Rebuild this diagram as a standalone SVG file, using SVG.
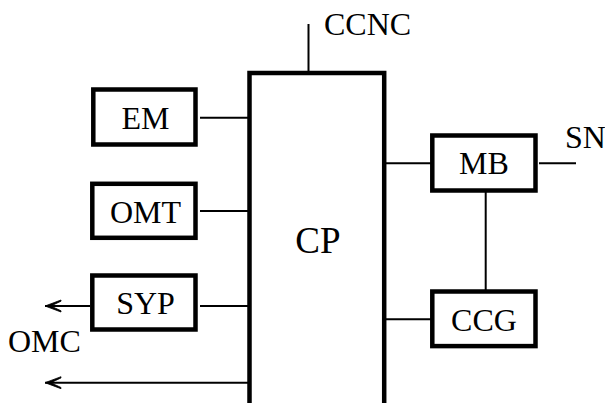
<svg xmlns="http://www.w3.org/2000/svg" width="605" height="403" viewBox="0 0 605 403">
<defs>
<style>
.box{fill:#fff;stroke:#000;stroke-width:4.5}
.cp{fill:none;stroke:#000;stroke-width:4.5}
.ln{fill:none;stroke:#000;stroke-width:2}
text{font-family:"Liberation Serif","Times New Roman",serif;font-size:32px;fill:#000}
.c{text-anchor:middle}
</style>
<marker id="ah" markerWidth="18" markerHeight="14" refX="17" refY="7" orient="auto" markerUnits="userSpaceOnUse" viewBox="0 0 18 14">
<path d="M17,7 Q9,4 1,1 L1,2.2 Q7,5 11,7 Q7,9 1,11.8 L1,13 Q9,10 17,7 Z" fill="#000" stroke="#000" stroke-width="0.8"/>
</marker>
</defs>
<rect width="605" height="403" fill="#fff"/>
<g id="connectors">
<line class="ln" x1="308.5" y1="24" x2="308.5" y2="73"/>
<line class="ln" x1="200" y1="117.7" x2="249" y2="117.7"/>
<line class="ln" x1="200" y1="211" x2="249" y2="211"/>
<line class="ln" x1="200" y1="306" x2="249" y2="306"/>
<line class="ln" x1="90" y1="306" x2="45" y2="306" marker-end="url(#ah)"/>
<line class="ln" x1="249" y1="382.7" x2="45" y2="382.7" marker-end="url(#ah)"/>
<line class="ln" x1="386" y1="163.3" x2="431" y2="163.3"/>
<line class="ln" x1="539" y1="163.3" x2="576" y2="163.3"/>
<line class="ln" x1="485.7" y1="192" x2="485.7" y2="290"/>
<line class="ln" x1="386" y1="319.3" x2="431" y2="319.3"/>
</g>
<g id="CP">
<path class="cp" d="M249.5,403 V73 H384.2 V403"/>
<text x="318" y="252.5" class="c" style="font-size:37px">CP</text>
</g>
<g id="CCNC"><text x="324" y="35">CCNC</text></g>
<g id="EM">
<rect class="box" x="93.3" y="89.5" width="102.2" height="55"/>
<text x="145.5" y="129.3" class="c">EM</text>
</g>
<g id="OMT">
<rect class="box" x="92.3" y="183.8" width="103.2" height="54"/>
<text x="145.5" y="222.7" class="c">OMT</text>
</g>
<g id="SYP">
<rect class="box" x="92.3" y="275.5" width="103.2" height="54"/>
<text x="145.5" y="314.3" class="c">SYP</text>
</g>
<g id="OMC"><text x="8" y="351.7">OMC</text></g>
<g id="MB">
<rect class="box" x="432.3" y="135.5" width="103.2" height="55"/>
<text x="484" y="174.3" class="c">MB</text>
</g>
<g id="SN"><text x="565" y="148.3">SN</text></g>
<g id="CCG">
<rect class="box" x="432.3" y="291.5" width="103.2" height="54.6"/>
<text x="484" y="330.7" class="c">CCG</text>
</g>
</svg>
